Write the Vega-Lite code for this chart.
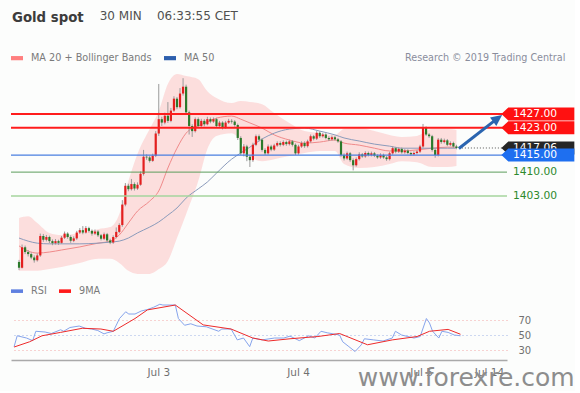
{
"$schema":"https://vega.github.io/schema/vega-lite/v6.json",
"background":"#fcfdfc",
"padding":{"left":10,"top":10,"right":0,"bottom":0},
"config":{"font":"DejaVu Sans","view":{"stroke":null},"concat":{"spacing":11}},
"title":{"text":"Gold spot","subtitle":"\u200c\u00a0\u00a0\u00a0\u00a0\u00a0\u00a0\u00a0\u00a0\u00a0\u00a0\u00a0\u00a0\u00a0\u00a0\u00a0\u00a0\u00a0\u00a0\u00a0\u00a0\u00a0\u00a0\u00a030 MIN\u00a0\u00a0\u00a0\u00a006:33:55 CET","anchor":"start","dx":2,"offset":27,"fontSize":13.3,"fontWeight":"bold","color":"#3c3c3c","subtitleFontSize":12,"subtitleColor":"#505050","subtitlePadding":-13},
"datasets":{
"candles":[
{"i":0,"o":1383.7,"h":1384.3,"l":1381.3,"c":1382.0},
{"i":1,"o":1382.0,"h":1388.8,"l":1381.8,"c":1388.0},
{"i":2,"o":1388.0,"h":1388.5,"l":1386.0,"c":1386.6},
{"i":3,"o":1386.6,"h":1387.2,"l":1385.3,"c":1386.0},
{"i":4,"o":1386.0,"h":1386.5,"l":1384.5,"c":1385.0},
{"i":5,"o":1385.0,"h":1385.6,"l":1383.5,"c":1384.2},
{"i":6,"o":1384.2,"h":1386.2,"l":1383.8,"c":1385.6},
{"i":7,"o":1385.6,"h":1392.0,"l":1385.2,"c":1391.3},
{"i":8,"o":1391.3,"h":1391.9,"l":1389.6,"c":1390.2},
{"i":9,"o":1390.2,"h":1391.6,"l":1389.7,"c":1391.0},
{"i":10,"o":1391.0,"h":1391.4,"l":1389.2,"c":1389.8},
{"i":11,"o":1389.8,"h":1390.3,"l":1388.6,"c":1389.2},
{"i":12,"o":1389.2,"h":1390.4,"l":1388.8,"c":1389.8},
{"i":13,"o":1389.8,"h":1390.2,"l":1388.7,"c":1389.3},
{"i":14,"o":1389.3,"h":1391.3,"l":1389.0,"c":1390.8},
{"i":15,"o":1390.8,"h":1392.6,"l":1390.4,"c":1392.0},
{"i":16,"o":1392.0,"h":1392.4,"l":1390.5,"c":1391.0},
{"i":17,"o":1391.0,"h":1391.5,"l":1389.3,"c":1389.9},
{"i":18,"o":1389.9,"h":1391.2,"l":1389.5,"c":1390.6},
{"i":19,"o":1390.6,"h":1392.8,"l":1390.2,"c":1392.3},
{"i":20,"o":1392.3,"h":1393.6,"l":1391.9,"c":1393.0},
{"i":21,"o":1393.0,"h":1394.2,"l":1391.8,"c":1392.3},
{"i":22,"o":1392.3,"h":1394.2,"l":1392.0,"c":1393.6},
{"i":23,"o":1393.6,"h":1394.0,"l":1392.3,"c":1392.8},
{"i":24,"o":1392.8,"h":1393.2,"l":1391.4,"c":1392.0},
{"i":25,"o":1392.0,"h":1393.2,"l":1391.6,"c":1392.6},
{"i":26,"o":1392.6,"h":1393.0,"l":1391.0,"c":1391.5},
{"i":27,"o":1391.5,"h":1391.9,"l":1390.0,"c":1390.5},
{"i":28,"o":1390.5,"h":1392.3,"l":1390.1,"c":1391.8},
{"i":29,"o":1391.8,"h":1392.2,"l":1389.5,"c":1390.0},
{"i":30,"o":1390.0,"h":1390.5,"l":1388.9,"c":1389.4},
{"i":31,"o":1389.4,"h":1391.5,"l":1389.0,"c":1391.0},
{"i":32,"o":1391.0,"h":1393.8,"l":1390.6,"c":1392.5},
{"i":33,"o":1392.5,"h":1395.0,"l":1392.1,"c":1394.5},
{"i":34,"o":1394.5,"h":1401.8,"l":1394.0,"c":1400.5},
{"i":35,"o":1400.5,"h":1406.8,"l":1400.0,"c":1406.0},
{"i":36,"o":1406.0,"h":1406.6,"l":1404.4,"c":1405.0},
{"i":37,"o":1405.0,"h":1408.0,"l":1404.6,"c":1406.5},
{"i":38,"o":1406.5,"h":1407.0,"l":1404.6,"c":1405.2},
{"i":39,"o":1405.2,"h":1407.0,"l":1404.8,"c":1406.3},
{"i":40,"o":1406.3,"h":1410.2,"l":1406.0,"c":1409.5},
{"i":41,"o":1409.5,"h":1416.5,"l":1409.0,"c":1414.5},
{"i":42,"o":1414.5,"h":1415.2,"l":1413.6,"c":1414.3},
{"i":43,"o":1414.3,"h":1414.8,"l":1412.8,"c":1413.3},
{"i":44,"o":1413.3,"h":1415.4,"l":1413.0,"c":1414.8},
{"i":45,"o":1414.8,"h":1422.0,"l":1414.4,"c":1421.3},
{"i":46,"o":1421.3,"h":1435.8,"l":1420.6,"c":1425.5},
{"i":47,"o":1425.5,"h":1426.2,"l":1423.5,"c":1424.5},
{"i":48,"o":1424.5,"h":1427.4,"l":1424.0,"c":1426.5},
{"i":49,"o":1426.5,"h":1430.5,"l":1424.4,"c":1425.0},
{"i":50,"o":1425.0,"h":1428.8,"l":1424.6,"c":1428.0},
{"i":51,"o":1428.0,"h":1432.2,"l":1427.6,"c":1431.5},
{"i":52,"o":1431.5,"h":1432.0,"l":1428.4,"c":1429.0},
{"i":53,"o":1429.0,"h":1434.6,"l":1428.6,"c":1433.0},
{"i":54,"o":1433.0,"h":1437.5,"l":1432.4,"c":1435.0},
{"i":55,"o":1435.0,"h":1435.6,"l":1427.0,"c":1427.5},
{"i":56,"o":1427.5,"h":1428.0,"l":1421.0,"c":1423.5},
{"i":57,"o":1423.5,"h":1424.0,"l":1420.3,"c":1422.0},
{"i":58,"o":1422.0,"h":1426.0,"l":1421.6,"c":1425.5},
{"i":59,"o":1425.5,"h":1426.0,"l":1423.0,"c":1423.5},
{"i":60,"o":1423.5,"h":1425.6,"l":1423.1,"c":1425.0},
{"i":61,"o":1425.0,"h":1425.5,"l":1423.4,"c":1424.0},
{"i":62,"o":1424.0,"h":1426.2,"l":1423.7,"c":1425.5},
{"i":63,"o":1425.5,"h":1426.0,"l":1424.3,"c":1424.8},
{"i":64,"o":1424.8,"h":1426.0,"l":1424.4,"c":1425.5},
{"i":65,"o":1425.5,"h":1425.9,"l":1423.0,"c":1423.5},
{"i":66,"o":1423.5,"h":1425.0,"l":1423.1,"c":1424.5},
{"i":67,"o":1424.5,"h":1424.9,"l":1422.5,"c":1423.0},
{"i":68,"o":1423.0,"h":1425.0,"l":1422.7,"c":1424.5},
{"i":69,"o":1424.5,"h":1425.6,"l":1424.1,"c":1425.0},
{"i":70,"o":1425.0,"h":1425.5,"l":1424.2,"c":1424.8},
{"i":71,"o":1424.8,"h":1425.2,"l":1423.3,"c":1423.8},
{"i":72,"o":1423.8,"h":1424.2,"l":1419.4,"c":1420.0},
{"i":73,"o":1420.0,"h":1420.5,"l":1415.0,"c":1415.5},
{"i":74,"o":1415.5,"h":1418.2,"l":1414.6,"c":1417.5},
{"i":75,"o":1417.5,"h":1418.0,"l":1413.2,"c":1414.5},
{"i":76,"o":1414.5,"h":1415.0,"l":1411.5,"c":1413.5},
{"i":77,"o":1413.5,"h":1418.6,"l":1413.0,"c":1418.0},
{"i":78,"o":1418.0,"h":1421.0,"l":1417.6,"c":1420.5},
{"i":79,"o":1420.5,"h":1421.0,"l":1419.0,"c":1419.5},
{"i":80,"o":1419.5,"h":1419.9,"l":1416.0,"c":1416.5},
{"i":81,"o":1416.5,"h":1417.0,"l":1415.0,"c":1415.5},
{"i":82,"o":1415.5,"h":1418.1,"l":1415.1,"c":1417.5},
{"i":83,"o":1417.5,"h":1418.0,"l":1416.1,"c":1416.6},
{"i":84,"o":1416.6,"h":1418.3,"l":1416.2,"c":1417.8},
{"i":85,"o":1417.8,"h":1419.0,"l":1417.4,"c":1418.5},
{"i":86,"o":1418.5,"h":1419.0,"l":1417.5,"c":1418.0},
{"i":87,"o":1418.0,"h":1419.3,"l":1417.6,"c":1418.8},
{"i":88,"o":1418.8,"h":1419.2,"l":1417.7,"c":1418.2},
{"i":89,"o":1418.2,"h":1419.5,"l":1417.8,"c":1419.0},
{"i":90,"o":1419.0,"h":1419.4,"l":1417.5,"c":1418.0},
{"i":91,"o":1418.0,"h":1418.4,"l":1415.0,"c":1415.5},
{"i":92,"o":1415.5,"h":1418.0,"l":1415.1,"c":1417.5},
{"i":93,"o":1417.5,"h":1419.0,"l":1417.1,"c":1418.5},
{"i":94,"o":1418.5,"h":1419.0,"l":1417.1,"c":1417.6},
{"i":95,"o":1417.6,"h":1419.5,"l":1417.2,"c":1419.0},
{"i":96,"o":1419.0,"h":1421.0,"l":1418.6,"c":1420.5},
{"i":97,"o":1420.5,"h":1420.9,"l":1419.3,"c":1419.8},
{"i":98,"o":1419.8,"h":1422.0,"l":1419.4,"c":1421.5},
{"i":99,"o":1421.5,"h":1421.9,"l":1420.0,"c":1420.5},
{"i":100,"o":1420.5,"h":1421.5,"l":1420.1,"c":1421.0},
{"i":101,"o":1421.0,"h":1421.4,"l":1419.6,"c":1420.0},
{"i":102,"o":1420.0,"h":1420.5,"l":1419.1,"c":1419.6},
{"i":103,"o":1419.6,"h":1420.7,"l":1419.2,"c":1420.2},
{"i":104,"o":1420.2,"h":1420.6,"l":1419.2,"c":1419.6},
{"i":105,"o":1419.6,"h":1420.0,"l":1418.6,"c":1419.0},
{"i":106,"o":1419.0,"h":1419.4,"l":1414.5,"c":1415.0},
{"i":107,"o":1415.0,"h":1415.5,"l":1413.4,"c":1414.0},
{"i":108,"o":1414.0,"h":1416.0,"l":1413.6,"c":1415.5},
{"i":109,"o":1415.5,"h":1415.9,"l":1413.0,"c":1413.5},
{"i":110,"o":1413.5,"h":1414.0,"l":1410.5,"c":1412.0},
{"i":111,"o":1412.0,"h":1414.3,"l":1411.6,"c":1413.8},
{"i":112,"o":1413.8,"h":1415.8,"l":1413.4,"c":1415.2},
{"i":113,"o":1415.2,"h":1415.6,"l":1414.2,"c":1414.6},
{"i":114,"o":1414.6,"h":1416.1,"l":1414.2,"c":1415.6},
{"i":115,"o":1415.6,"h":1416.0,"l":1414.6,"c":1415.0},
{"i":116,"o":1415.0,"h":1416.0,"l":1414.6,"c":1415.5},
{"i":117,"o":1415.5,"h":1415.9,"l":1414.4,"c":1414.8},
{"i":118,"o":1414.8,"h":1415.2,"l":1413.9,"c":1414.3},
{"i":119,"o":1414.3,"h":1415.5,"l":1413.9,"c":1415.0},
{"i":120,"o":1415.0,"h":1415.4,"l":1413.9,"c":1414.3},
{"i":121,"o":1414.3,"h":1414.7,"l":1413.3,"c":1413.8},
{"i":122,"o":1413.8,"h":1416.0,"l":1413.4,"c":1415.5},
{"i":123,"o":1415.5,"h":1417.6,"l":1415.1,"c":1417.0},
{"i":124,"o":1417.0,"h":1417.4,"l":1415.5,"c":1416.0},
{"i":125,"o":1416.0,"h":1417.3,"l":1415.6,"c":1416.8},
{"i":126,"o":1416.8,"h":1417.2,"l":1415.4,"c":1415.8},
{"i":127,"o":1415.8,"h":1416.8,"l":1415.4,"c":1416.3},
{"i":128,"o":1416.3,"h":1416.7,"l":1415.2,"c":1415.6},
{"i":129,"o":1415.6,"h":1416.0,"l":1414.8,"c":1415.2},
{"i":130,"o":1415.2,"h":1416.1,"l":1414.8,"c":1415.6},
{"i":131,"o":1415.6,"h":1416.5,"l":1415.2,"c":1416.0},
{"i":132,"o":1416.0,"h":1418.0,"l":1415.6,"c":1417.5},
{"i":133,"o":1417.5,"h":1424.1,"l":1417.1,"c":1423.0},
{"i":134,"o":1423.0,"h":1423.4,"l":1420.6,"c":1421.0},
{"i":135,"o":1421.0,"h":1421.4,"l":1420.0,"c":1420.5},
{"i":136,"o":1420.5,"h":1420.9,"l":1416.0,"c":1416.5},
{"i":137,"o":1416.5,"h":1417.0,"l":1414.2,"c":1415.0},
{"i":138,"o":1415.0,"h":1420.0,"l":1414.6,"c":1419.5},
{"i":139,"o":1419.5,"h":1420.0,"l":1418.3,"c":1418.8},
{"i":140,"o":1418.8,"h":1419.8,"l":1418.4,"c":1419.3},
{"i":141,"o":1419.3,"h":1419.7,"l":1417.6,"c":1418.0},
{"i":142,"o":1418.0,"h":1419.0,"l":1417.6,"c":1418.5},
{"i":143,"o":1418.5,"h":1418.9,"l":1417.1,"c":1417.5},
{"i":144,"o":1417.5,"h":1418.0,"l":1416.7,"c":1417.06}
],
"bands":[
{"i":0,"up":1396.6,"lo":1381.1,"ma20":1388.4,"ma50":1390.7},
{"i":3,"up":1397.1,"lo":1381.1,"ma20":1386.9,"ma50":1389.8},
{"i":6,"up":1395.1,"lo":1381.1,"ma20":1386.3,"ma50":1389.2},
{"i":10,"up":1392.2,"lo":1381.6,"ma20":1386.6,"ma50":1389.0},
{"i":14,"up":1391.6,"lo":1382.2,"ma20":1387.2,"ma50":1389.0},
{"i":20,"up":1392.2,"lo":1383.4,"ma20":1388.1,"ma50":1389.0},
{"i":26,"up":1393.3,"lo":1384.6,"ma20":1389.2,"ma50":1389.2},
{"i":30,"up":1393.9,"lo":1384.6,"ma20":1389.8,"ma50":1389.5},
{"i":33,"up":1397.7,"lo":1383.4,"ma20":1391.6,"ma50":1389.8},
{"i":36,"up":1407.4,"lo":1381.1,"ma20":1395.1,"ma50":1390.7},
{"i":39,"up":1415.3,"lo":1380.2,"ma20":1398.6,"ma50":1392.2},
{"i":43,"up":1422.6,"lo":1380.2,"ma20":1401.5,"ma50":1393.9},
{"i":46,"up":1427.9,"lo":1381.6,"ma20":1404.5,"ma50":1395.4},
{"i":49,"up":1435.8,"lo":1384.0,"ma20":1411.2,"ma50":1397.4},
{"i":52,"up":1438.7,"lo":1390.7,"ma20":1417.0,"ma50":1399.5},
{"i":55,"up":1438.1,"lo":1397.7,"ma20":1421.4,"ma50":1402.4},
{"i":59,"up":1437.2,"lo":1407.4,"ma20":1423.5,"ma50":1405.1},
{"i":62,"up":1433.7,"lo":1416.8,"ma20":1424.7,"ma50":1407.1},
{"i":65,"up":1431.7,"lo":1420.6,"ma20":1425.8,"ma50":1409.7},
{"i":70,"up":1430.2,"lo":1421.4,"ma20":1426.4,"ma50":1413.8},
{"i":73,"up":1430.8,"lo":1419.1,"ma20":1425.5,"ma50":1415.6},
{"i":76,"up":1430.5,"lo":1414.7,"ma20":1424.4,"ma50":1417.3},
{"i":80,"up":1429.9,"lo":1413.2,"ma20":1422.9,"ma50":1419.7},
{"i":84,"up":1427.3,"lo":1413.8,"ma20":1420.9,"ma50":1421.4},
{"i":89,"up":1424.4,"lo":1414.7,"ma20":1419.4,"ma50":1422.6},
{"i":94,"up":1422.0,"lo":1415.6,"ma20":1418.5,"ma50":1422.9},
{"i":99,"up":1421.4,"lo":1416.2,"ma20":1418.8,"ma50":1422.0},
{"i":104,"up":1420.9,"lo":1416.2,"ma20":1419.4,"ma50":1420.9},
{"i":107,"up":1422.6,"lo":1412.4,"ma20":1418.5,"ma50":1420.0},
{"i":112,"up":1422.9,"lo":1411.2,"ma20":1417.9,"ma50":1419.1},
{"i":117,"up":1422.0,"lo":1411.5,"ma20":1417.0,"ma50":1418.2},
{"i":122,"up":1420.9,"lo":1412.4,"ma20":1416.2,"ma50":1417.6},
{"i":126,"up":1420.3,"lo":1413.2,"ma20":1416.2,"ma50":1417.0},
{"i":131,"up":1420.6,"lo":1412.9,"ma20":1416.5,"ma50":1417.0},
{"i":136,"up":1422.6,"lo":1411.5,"ma20":1417.0,"ma50":1417.0},
{"i":141,"up":1422.6,"lo":1411.5,"ma20":1417.3,"ma50":1417.0},
{"i":144,"up":1422.3,"lo":1411.8,"ma20":1417.3,"ma50":1417.0}
],
"levels":[
{"p":1427,"k":"res"},{"p":1423,"k":"res"},{"p":1415,"k":"piv"},{"p":1410,"k":"s1"},{"p":1403,"k":"s2"}
],
"tags":[
{"p":1427,"lab":"1427.00","k":"res"},
{"p":1423,"lab":"1423.00","k":"res"},
{"p":1417.06,"lab":"1417.06","k":"last"},
{"p":1415,"lab":"1415.00","k":"piv"},
{"p":1410,"lab":"1410.00","k":"sup"},
{"p":1403,"lab":"1403.00","k":"sup"}
],
"last":[{"i":144.8,"p":1417.06},{"i":160,"p":1417.06}],
"arrow":[{"i":144.8,"p":1416.9},{"i":157.2,"p":1425.5}],
"arrowhead":[{"i":157.2,"p":1425.5}],
"rsi":[
{"i":0,"s":"RSI","v":34.5},{"i":1,"s":"RSI","v":49},{"i":4,"s":"RSI","v":46},{"i":6,"s":"RSI","v":42.5},{"i":7,"s":"RSI","v":55},
{"i":10,"s":"RSI","v":54},{"i":12,"s":"RSI","v":52},{"i":15,"s":"RSI","v":57},{"i":16,"s":"RSI","v":55},{"i":18,"s":"RSI","v":60},
{"i":21,"s":"RSI","v":62},{"i":23,"s":"RSI","v":59},{"i":25,"s":"RSI","v":58},{"i":27,"s":"RSI","v":56},{"i":29,"s":"RSI","v":51.5},
{"i":30,"s":"RSI","v":53},{"i":32,"s":"RSI","v":55},{"i":34,"s":"RSI","v":72},{"i":36,"s":"RSI","v":81},{"i":37,"s":"RSI","v":78},
{"i":39,"s":"RSI","v":78},{"i":41,"s":"RSI","v":82},{"i":43,"s":"RSI","v":84},{"i":45,"s":"RSI","v":87},{"i":47,"s":"RSI","v":91},
{"i":48,"s":"RSI","v":90},{"i":50,"s":"RSI","v":90},{"i":52,"s":"RSI","v":90},{"i":53,"s":"RSI","v":72},{"i":55,"s":"RSI","v":63},
{"i":57,"s":"RSI","v":65},{"i":59,"s":"RSI","v":62},{"i":62,"s":"RSI","v":61},{"i":66,"s":"RSI","v":55},{"i":67,"s":"RSI","v":58},
{"i":70,"s":"RSI","v":58},{"i":72,"s":"RSI","v":43.5},{"i":74,"s":"RSI","v":46},{"i":76,"s":"RSI","v":34.5},{"i":77,"s":"RSI","v":46},
{"i":80,"s":"RSI","v":43.5},{"i":84,"s":"RSI","v":46},{"i":87,"s":"RSI","v":46},{"i":89,"s":"RSI","v":48.5},{"i":92,"s":"RSI","v":42.5},
{"i":95,"s":"RSI","v":49},{"i":97,"s":"RSI","v":46},{"i":99,"s":"RSI","v":55},{"i":101,"s":"RSI","v":53},{"i":103,"s":"RSI","v":51.5},
{"i":105,"s":"RSI","v":50},{"i":106,"s":"RSI","v":41},{"i":108,"s":"RSI","v":34.5},{"i":110,"s":"RSI","v":28},{"i":112,"s":"RSI","v":37},
{"i":113,"s":"RSI","v":45},{"i":116,"s":"RSI","v":43.5},{"i":119,"s":"RSI","v":42},{"i":122,"s":"RSI","v":46},{"i":123,"s":"RSI","v":55},
{"i":125,"s":"RSI","v":50},{"i":127,"s":"RSI","v":48},{"i":129,"s":"RSI","v":46},{"i":131,"s":"RSI","v":48},{"i":133,"s":"RSI","v":72},
{"i":134,"s":"RSI","v":66},{"i":135,"s":"RSI","v":55},{"i":137,"s":"RSI","v":46},{"i":138,"s":"RSI","v":55},{"i":140,"s":"RSI","v":53.5},
{"i":142,"s":"RSI","v":50},{"i":144,"s":"RSI","v":49},
{"i":0,"s":"9MA","v":34},{"i":5,"s":"9MA","v":41},{"i":9,"s":"9MA","v":49},{"i":15,"s":"9MA","v":53.5},{"i":22,"s":"9MA","v":59},
{"i":28,"s":"9MA","v":58},{"i":32,"s":"9MA","v":55},{"i":39,"s":"9MA","v":72},{"i":43,"s":"9MA","v":83.5},{"i":52,"s":"9MA","v":90},
{"i":61,"s":"9MA","v":63.5},{"i":70,"s":"9MA","v":58},{"i":77,"s":"9MA","v":46},{"i":82,"s":"9MA","v":42},{"i":89,"s":"9MA","v":45},
{"i":98,"s":"9MA","v":48},{"i":105,"s":"9MA","v":52},{"i":114,"s":"9MA","v":37},{"i":122,"s":"9MA","v":43.5},{"i":130,"s":"9MA","v":48},
{"i":134,"s":"9MA","v":55},{"i":140,"s":"9MA","v":57.5},{"i":144,"s":"9MA","v":51}
]
},
"vconcat":[
{
"width":496,"height":200,
"title":{"text":"Research \u00a9 2019 Trading Central","anchor":"end","dx":-9,"dy":11,"fontSize":9.6,"fontWeight":"normal","color":"#8a8d9c","offset":0},
"layer":[
{"data":{"name":"bands"},"mark":{"type":"area","color":"#fcd3d3","opacity":0.75,"interpolate":"monotone"},
"encoding":{"x":{"field":"i","type":"quantitative","scale":{"domain":[-1,159],"nice":false,"zero":false},"axis":null},
"y":{"field":"up","type":"quantitative","scale":{"domain":[1381.05,1439.6],"nice":false,"zero":false},"axis":null},"y2":{"field":"lo"}}},
{"data":{"name":"bands"},"transform":[{"fold":["ma20","ma50"],"as":["s","v"]}],"mark":{"type":"line","strokeWidth":1,"interpolate":"monotone"},
"encoding":{"x":{"field":"i","type":"quantitative"},"y":{"field":"v","type":"quantitative"},
"stroke":{"field":"s","type":"nominal","scale":{"domain":["ma20","ma50"],"range":["#f08a8a","#8b9bbb"]},
"legend":{"orient":"top","direction":"horizontal","title":null,"symbolType":"M-1,-0.35H1V0.35H-1Z","symbolSize":144,"symbolStrokeWidth":0,"labelFontSize":9.7,"labelColor":"#7a7a7a","labelOffset":8,"columnPadding":12,"offset":8,"padding":0,
"labelExpr":"datum.label === 'ma20' ? 'MA 20 + Bollinger Bands' : 'MA 50'",
"encode":{"symbols":{"update":{"fill":{"signal":"datum.value === 'ma50' ? '#2d5fad' : '#ff7f7f'"},"stroke":{"value":"transparent"}}}}}}}},
{"data":{"name":"candles"},"mark":{"type":"rule","color":"#9a9a9a","strokeWidth":1},
"encoding":{"x":{"field":"i","type":"quantitative"},"y":{"field":"l","type":"quantitative"},"y2":{"field":"h"}}},
{"data":{"name":"candles"},"mark":{"type":"bar","size":2.2},
"encoding":{"x":{"field":"i","type":"quantitative"},"y":{"field":"o","type":"quantitative"},"y2":{"field":"c"},
"color":{"condition":{"test":"datum.c >= datum.o","value":"#e41e1e"},"value":"#2b7a2b"}}},
{"data":{"name":"levels"},"transform":[{"filter":"datum.k === 'res'"}],"mark":{"type":"rule","color":"#ff1c1c","strokeWidth":2},"encoding":{"y":{"field":"p","type":"quantitative"}}},
{"data":{"name":"levels"},"transform":[{"filter":"datum.k === 'piv'"}],"mark":{"type":"rule","color":"#4a7fe0","strokeWidth":1.2},"encoding":{"y":{"field":"p","type":"quantitative"}}},
{"data":{"name":"levels"},"transform":[{"filter":"datum.k === 's1'"}],"mark":{"type":"rule","color":"#5c9e5c","strokeWidth":1},"encoding":{"y":{"field":"p","type":"quantitative"}}},
{"data":{"name":"levels"},"transform":[{"filter":"datum.k === 's2'"}],"mark":{"type":"rule","color":"#a6d59e","strokeWidth":1.5},"encoding":{"y":{"field":"p","type":"quantitative"}}},
{"data":{"name":"last"},"mark":{"type":"line","color":"#555555","strokeWidth":1,"strokeDash":[1,2]},"encoding":{"x":{"field":"i","type":"quantitative"},"y":{"field":"p","type":"quantitative"}}},
{"data":{"name":"arrow"},"mark":{"type":"line","color":"#2b65b0","strokeWidth":3},"encoding":{"x":{"field":"i","type":"quantitative"},"y":{"field":"p","type":"quantitative"}}},
{"data":{"name":"arrowhead"},"mark":{"type":"point","shape":"M0,-1L0.75,0.6L-0.75,0.6Z","size":196,"filled":true,"opacity":1,"color":"#2b65b0","angle":53},"encoding":{"x":{"field":"i","type":"quantitative"},"y":{"field":"p","type":"quantitative"}}},
{"data":{"name":"tags"},"transform":[{"filter":"datum.k === 'res' || datum.k === 'last'"}],"mark":{"type":"point","shape":"M-1,0L-0.81,-0.18L1,-0.18L1,0.18L-0.81,0.18Z","size":5329,"filled":true,"opacity":1,"strokeWidth":0},
"encoding":{"x":{"datum":170.8,"type":"quantitative"},"y":{"field":"p","type":"quantitative"},"fill":{"field":"k","type":"nominal","scale":{"domain":["res","last","piv"],"range":["#ff1111","#262626","#1e6ff0"]},"legend":null}}},
{"data":{"name":"tags"},"transform":[{"filter":"datum.k === 'res' || datum.k === 'last'"}],"mark":{"type":"text","align":"left","baseline":"middle","fontSize":10.7,"color":"#ffffff"},
"encoding":{"x":{"datum":162.6,"type":"quantitative"},"y":{"field":"p","type":"quantitative"},"text":{"field":"lab"}}},
{"data":{"name":"tags"},"transform":[{"filter":"datum.k === 'piv'"}],"mark":{"type":"point","shape":"M-1,0L-0.81,-0.18L1,-0.18L1,0.18L-0.81,0.18Z","size":5329,"filled":true,"opacity":1,"strokeWidth":0},
"encoding":{"x":{"datum":170.8,"type":"quantitative"},"y":{"field":"p","type":"quantitative"},"fill":{"field":"k","type":"nominal","legend":null}}},
{"data":{"name":"tags"},"transform":[{"filter":"datum.k === 'piv'"}],"mark":{"type":"text","align":"left","baseline":"middle","fontSize":10.7,"color":"#ffffff"},
"encoding":{"x":{"datum":162.6,"type":"quantitative"},"y":{"field":"p","type":"quantitative"},"text":{"field":"lab"}}},
{"data":{"name":"tags"},"transform":[{"filter":"datum.k === 'sup'"}],"mark":{"type":"text","align":"left","baseline":"middle","fontSize":10.7,"color":"#2d8a2d"},
"encoding":{"x":{"datum":162.6,"type":"quantitative"},"y":{"field":"p","type":"quantitative"},"text":{"field":"lab"}}}
]
},
{
"width":496,"height":60,
"title":{"text":"www.forexre.com","orient":"bottom","anchor":"end","dx":44,"offset":-12,"fontSize":25,"fontWeight":"normal","color":"#8d8d8d"},
"data":{"name":"rsi"},
"mark":{"type":"line","strokeWidth":1},
"encoding":{
"x":{"field":"i","type":"quantitative","scale":{"domain":[-1,159],"nice":false,"zero":false},
"axis":{"values":[46.5,91.6,131.3,153.2],"labelExpr":"datum.value < 60 ? 'Jul 3' : datum.value < 100 ? 'Jul 4' : datum.value < 140 ? 'Jul 5' : 'Jul 14'","ticks":false,"grid":false,"domainColor":"#a9a9a9","domainWidth":1.5,"labelColor":"#707070","labelFontSize":10.5,"labelPadding":7,"title":null,"labelFlush":false}},
"y":{"field":"v","type":"quantitative","scale":{"domain":[16.7,96.7],"nice":false,"zero":false},
"axis":{"orient":"right","values":[30,50,70],"domain":false,"ticks":false,"labelPadding":11,"labelColor":"#707070","labelFontSize":10,"title":null,"grid":true,"gridDash":[1,3],"gridColor":{"condition":{"test":"datum.value === 50","value":"#9fb3e6"},"value":"#f2a6a6"},"gridWidth":1}},
"stroke":{"field":"s","type":"nominal","scale":{"domain":["RSI","9MA"],"range":["#86a4ec","#ee2a2a"]},
"legend":{"orient":"top","direction":"horizontal","title":null,"symbolType":"M-1,-0.3H1V0.3H-1Z","symbolSize":144,"symbolStrokeWidth":0,"labelFontSize":9.7,"labelColor":"#7a7a7a","labelOffset":8,"columnPadding":12,"offset":4,"padding":0,
"encode":{"symbols":{"update":{"fill":{"signal":"datum.value === 'RSI' ? '#5f80e0' : '#ff1a1a'"},"stroke":{"value":"transparent"}}}}}}
}
}
],
"resolve":{"scale":{"stroke":"independent"},"legend":{"stroke":"independent"}}
}
